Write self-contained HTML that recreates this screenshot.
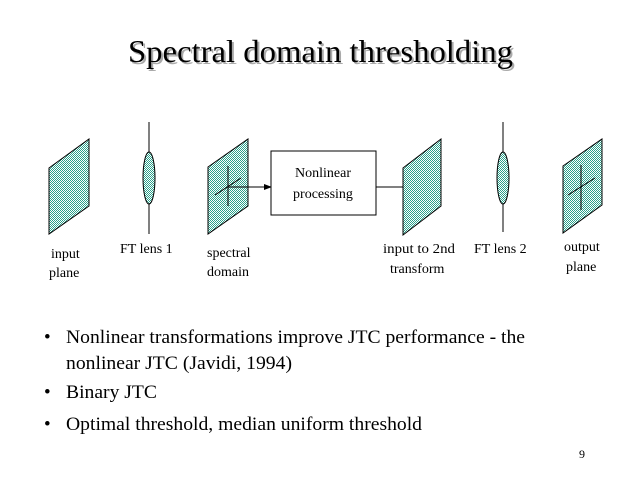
<!DOCTYPE html>
<html><head><meta charset="utf-8"><style>
html,body{margin:0;padding:0;background:#fff;}
svg{display:block;}
text{font-family:"Liberation Serif",serif;fill:#000;}
</style></head><body>
<svg width="640" height="480" viewBox="0 0 640 480" xmlns="http://www.w3.org/2000/svg">
<defs>
<pattern id="d" width="2" height="2" patternUnits="userSpaceOnUse">
<rect width="2" height="2" fill="#ffffff"/>
<rect width="1" height="1" fill="#2aa08a"/>
<rect x="1" y="1" width="1" height="1" fill="#2aa08a"/>
</pattern>
<marker id="a" markerWidth="8" markerHeight="8" refX="7" refY="4" orient="auto" markerUnits="userSpaceOnUse">
<path d="M0,1 L8,4 L0,7 z" fill="#000"/>
</marker>
</defs>
<text x="130" y="64" font-size="32" textLength="385" lengthAdjust="spacingAndGlyphs" style="fill:#aaa">Spectral domain thresholding</text>
<text x="128" y="62" font-size="32" textLength="385" lengthAdjust="spacingAndGlyphs">Spectral domain thresholding</text>

<g stroke="#000" stroke-width="1" fill="url(#d)">
<polygon points="49,168 89,139 89,206 49,234"/>
<line x1="149" y1="122" x2="149" y2="234"/>
<ellipse cx="149" cy="178" rx="6" ry="26"/>
<polygon points="208,167 248,139 248,206 208,234"/>
<line x1="228" y1="166" x2="228" y2="206"/>
<line x1="215" y1="195" x2="241" y2="178"/>
<line x1="228" y1="187" x2="271" y2="187" marker-end="url(#a)"/>
<rect x="271" y="151" width="105" height="64" fill="#fff"/>
<line x1="376" y1="187" x2="403" y2="187"/>
<polygon points="403,168 441,139 441,206 403,235"/>
<line x1="503" y1="122" x2="503" y2="232"/>
<ellipse cx="503" cy="178" rx="6" ry="26"/>
<polygon points="563,166 602,139 602,205 563,233"/>
<line x1="581" y1="165" x2="581" y2="210"/>
<line x1="568" y1="195" x2="595" y2="178"/>
</g>

<g font-size="14">
<text x="323" y="177" text-anchor="middle">Nonlinear</text>
<text x="323" y="198" text-anchor="middle">processing</text>
<text x="51" y="258">input</text>
<text x="49" y="277">plane</text>
<text x="120" y="253">FT lens 1</text>
<text x="207" y="257">spectral</text>
<text x="207" y="276">domain</text>
<text x="383" y="253" textLength="72" lengthAdjust="spacingAndGlyphs">input to 2nd</text>
<text x="390" y="273">transform</text>
<text x="474" y="253">FT lens 2</text>
<text x="564" y="251">output</text>
<text x="566" y="271">plane</text>
</g>

<g font-size="19">
<text x="44" y="343">•</text>
<text x="66" y="343" textLength="459" lengthAdjust="spacingAndGlyphs">Nonlinear transformations improve JTC performance - the</text>
<text x="66" y="369" textLength="226" lengthAdjust="spacingAndGlyphs">nonlinear JTC (Javidi, 1994)</text>
<text x="44" y="398">•</text>
<text x="66" y="398" textLength="91" lengthAdjust="spacingAndGlyphs">Binary JTC</text>
<text x="44" y="430">•</text>
<text x="66" y="430" textLength="356" lengthAdjust="spacingAndGlyphs">Optimal threshold, median uniform threshold</text>
</g>
<text x="579" y="458" font-size="12">9</text>
</svg>
</body></html>
